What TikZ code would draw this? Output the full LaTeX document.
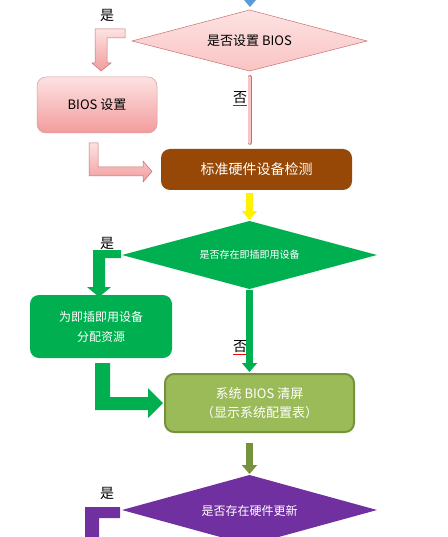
\documentclass[tikz,border=0pt]{standalone}
\usepackage{fontspec}
\setmainfont{Noto Sans CJK SC}
\usetikzlibrary{arrows.meta}
\definecolor{pinkfill}{HTML}{F9C4C4}
\definecolor{pinklight}{HTML}{FDE2E2}
\definecolor{pinkdark}{HTML}{F29C9C}
\definecolor{pinkborder}{HTML}{C9706E}
\definecolor{brownfill}{HTML}{974806}
\definecolor{greenfill}{HTML}{00B050}
\definecolor{olivefill}{HTML}{9BBB59}
\definecolor{olivedark}{HTML}{76923C}
\definecolor{purplefill}{HTML}{7030A0}
\definecolor{bluetip}{HTML}{5B9BD5}
\tikzset{
  dtext/.style={inner sep=0pt, align=center},
  roundbox/.style={rectangle, rounded corners=9pt, inner sep=0pt, align=center},
  lab/.style={font=\fontsize{14}{14}\selectfont, inner sep=0pt},
  pinkarrow/.style={draw=pinkborder, line width=0.5pt, top color=pinklight, bottom color=pinkdark},
  solidarrow/.style={line width=7pt, -{Triangle[width=15pt,length=9pt]}},
  squiggle/.style={draw=red, line width=1.2pt}
}
\begin{document}
\begin{tikzpicture}[x=1pt,y=-1pt]
\useasboundingbox (0,0) rectangle (447,537);
\clip (0,0) rectangle (447,537);

% top blue tip
\fill[bluetip] (244,0) -- (256,0) -- (250,7) -- cycle;

% decision diamonds (drawn as shapes, with named corner coordinates)
\coordinate (d1n) at (249.5,10);  \coordinate (d1s) at (249.5,71);
\coordinate (d1w) at (132,41);    \coordinate (d1e) at (367,41);
\path[draw=pinkborder, line width=0.5pt, top color=pinklight, bottom color=pinkfill]
  (d1w) -- (d1n) -- (d1e) -- (d1s) -- cycle;
\node[dtext, font=\fontsize{13}{13}\selectfont] (d1) at (249.5,41) {是否设置 BIOS};

\coordinate (d2n) at (249.5,221); \coordinate (d2s) at (249.5,289);
\coordinate (d2w) at (122,255);   \coordinate (d2e) at (377,255);
\fill[greenfill] (d2w) -- (d2n) -- (d2e) -- (d2s) -- cycle;
\node[dtext, text=white, font=\fontsize{10}{10}\selectfont] (d2) at (249.5,255) {是否存在即插即用设备};

\coordinate (d3n) at (249.5,475); \coordinate (d3s) at (249.5,545);
\coordinate (d3w) at (122,510);   \coordinate (d3e) at (377,510);
\fill[purplefill] (d3w) -- (d3n) -- (d3e) -- (d3s) -- cycle;
\node[dtext, text=white, font=\fontsize{12}{12}\selectfont] (d3) at (249.5,511) {是否存在硬件更新};

% boxes
\node[roundbox, minimum width=120pt, minimum height=56pt, draw=pinkborder!70, line width=0.5pt,
      top color=pinklight, bottom color=pinkdark,
      font=\fontsize{13}{13}\selectfont] (b1) at (97,105) {BIOS 设置};
\node[roundbox, minimum width=191pt, minimum height=41pt, fill=brownfill, text=white,
      font=\fontsize{14}{14}\selectfont] (b2) at (256.5,169.5) {标准硬件设备检测};
\node[roundbox, minimum width=142pt, minimum height=63pt, fill=greenfill, text=white,
      font=\fontsize{12}{20}\selectfont] (b3) at (101,326.5) {为即插即用设备\\分配资源};
\node[roundbox, minimum width=189pt, minimum height=58pt, fill=olivefill, draw=olivedark,
      line width=2pt, text=white,
      font=\fontsize{13}{19.5}\selectfont] (b4) at (259.5,403) {系统 BIOS 清屏\\（显示系统配置表）};

% labels
\node[lab] (y1) at (107,15) {是};
\node[lab] (y2) at (107,243) {是};
\node[lab] (y3) at (107,493) {是};
\node[lab] (n1) at (240,98) {否};
\node[lab] (n2) at (240,347) {否};
\draw[squiggle] (n1.south west) ++(0,1.5) -- ++(14,0);
\draw[squiggle] (n2.south west) ++(0,1.5) -- ++(14,0);

% pink thin connector d1 -> b2
\draw[draw=pinkborder, line width=4pt, line cap=round] ([yshift=-6pt]d1s) -- ([yshift=6pt]d1s |- b2.north);
\draw[draw=pinkfill, line width=2.6pt, line cap=round] ([yshift=-6pt]d1s) -- ([yshift=6pt]d1s |- b2.north);

% pink bent arrow d1 -> b1
\path[pinkarrow] (125,29) -- (95,29) -- (95,63) -- (92,63) -- (101,71) -- (111,63) -- (107,63)
  -- (107,38) -- (125,38) -- cycle;
% pink bent arrow b1 -> b2
\path[pinkarrow] (89,143) -- (98,143) -- (98,167) -- (143,167) -- (143,161) -- (152,171.5)
  -- (143,182) -- (143,176) -- (89,176) -- cycle;

% yellow arrow b2 -> d2
\draw[solidarrow, yellow] ([yshift=-3pt]d2n |- b2.south) -- ([yshift=1pt]d2n);

% green bent arrow d2 -> b3
\fill[greenfill] (121,250) -- (93,250) -- (93,287) -- (87,287) -- (99,297) -- (111,287) -- (105,287)
  -- (105,258) -- (121,258) -- cycle;
% green arrow d2 -> b4
\draw[solidarrow, greenfill] ([yshift=-1pt]d2s) -- ([yshift=1pt]d2s |- b4.north);
% green bent arrow b3 -> b4
\fill[greenfill] (95,363) -- (110,363) -- (110,397) -- (148,397) -- (148,388) -- (163,403)
  -- (148,418) -- (148,410) -- (95,410) -- cycle;

% olive arrow b4 -> d3
\draw[solidarrow, olivedark] ([yshift=-10pt]d3n |- b4.south) -- ([yshift=1pt]d3n);

% purple bent arrow from d3
\fill[purplefill] (120,507) -- (85,507) -- (85,545) -- (99,545) -- (99,518) -- (120,518) -- cycle;
\end{tikzpicture}
\end{document}
